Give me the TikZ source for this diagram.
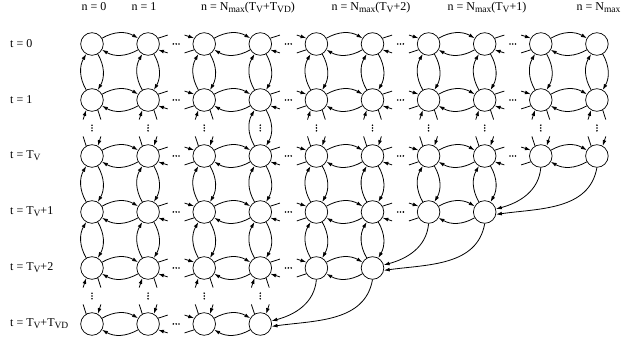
\documentclass[tikz,border=0pt]{standalone}
\usepackage{fontspec}
\setmainfont{Liberation Serif}
\usetikzlibrary{arrows.meta}
\newcommand\lowsub[1]{\raisebox{-0.35ex}{\fontsize{9.5}{10}\selectfont #1}}
\begin{document}
\begin{tikzpicture}[x=1pt,y=1pt,
  state/.style={circle,draw,line width=0.7pt,minimum size=22.6pt,inner sep=0pt},
  arc/.style={line width=0.8pt,-{Latex[length=5.8pt,width=3.8pt]}},
  instub/.style={line width=0.8pt,{Latex[length=5.8pt,width=3.8pt]}-},
  stub/.style={line width=0.8pt},
  lbl/.style={font=\fontsize{12}{14}\selectfont,inner sep=0pt},
]
\useasboundingbox (0,0) rectangle (635,345);
% states
\foreach \j/\m in {1/10,2/10,3/10,4/8,5/6,6/4}{
  \foreach \i in {1,...,\m}{
    \node[state] (n-\i-\j) at ({92+56.1*(\i-1)},{301-56*(\j-1)}) {};
  }
}
% horizontal arcs inside pairs
\foreach \j/\p in {1/5,2/5,3/5,4/4,5/3,6/2}{
  \foreach \k in {1,...,\p}{
    \pgfmathtruncatemacro\ia{2*\k-1}
    \pgfmathtruncatemacro\ib{2*\k}
    \draw[arc] (n-\ia-\j) to[bend left=30] (n-\ib-\j);
    \draw[arc] (n-\ib-\j) to[bend left=30] (n-\ia-\j);
  }
}
% stubs and dots between pairs
\foreach \j/\q in {1/4,2/4,3/4,4/3,5/2,6/1}{
  \foreach \k in {1,...,\q}{
    \pgfmathtruncatemacro\ib{2*\k}
    \pgfmathtruncatemacro\ic{2*\k+1}
    \draw[stub] (n-\ib-\j.30) -- ++(18:10);
    \draw[instub] (n-\ib-\j.-30) -- ++(-18:10);
    \draw[instub] (n-\ic-\j.150) -- ++(162:10);
    \draw[stub] (n-\ic-\j.210) -- ++(198:10);
    \pgfmathsetmacro\xd{92+56.1*(2*\k-0.5)}
    \pgfmathsetmacro\yd{301-56*(\j-1)}
    \foreach \d in {-2.8,0,2.8} \fill (\xd+\d,\yd) circle (0.9pt);
  }
}
% vertical arcs
\foreach \j/\jj/\m in {1/2/10,3/4/8,4/5/6}{
  \foreach \i in {1,...,\m}{
    \draw[arc] (n-\i-\j) to[bend left=30] (n-\i-\jj);
    \draw[arc] (n-\i-\jj) to[bend left=30] (n-\i-\j);
  }
}
\draw[arc] (n-4-2) to[bend left=30] (n-4-3);
\draw[arc] (n-4-3) to[bend left=30] (n-4-2);
% vertical stubs
\foreach \i in {1,2,3,5,6,7,8,9,10}{
  \draw[instub] (n-\i-2.-120) -- ++(-108:10);
  \draw[stub] (n-\i-2.-60) -- ++(-72:10);
  \draw[stub] (n-\i-3.120) -- ++(108:10);
  \draw[instub] (n-\i-3.60) -- ++(72:10);
}
\foreach \i in {1,...,4}{
  \draw[instub] (n-\i-5.-120) -- ++(-108:10);
  \draw[stub] (n-\i-5.-60) -- ++(-72:10);
  \draw[stub] (n-\i-6.120) -- ++(108:10);
  \draw[instub] (n-\i-6.60) -- ++(72:10);
}
% vertical dots
\foreach \i in {1,...,10}{
  \foreach \d in {-2.8,0,2.8} \fill ({92+56.1*(\i-1)},217+\d) circle (0.9pt);
}
\foreach \i in {1,...,4}{
  \foreach \d in {-2.8,0,2.8} \fill ({92+56.1*(\i-1)},49+\d) circle (0.9pt);
}
% long curves
\draw[arc] (n-9-3.south) to[out=-95,in=15] (n-8-4.15);
\draw[arc] (n-10-3.south) to[out=-100,in=8] (n-8-4.-12);
\draw[arc] (n-7-4.south) to[out=-95,in=15] (n-6-5.15);
\draw[arc] (n-8-4.south) to[out=-100,in=8] (n-6-5.-12);
\draw[arc] (n-5-5.south) to[out=-95,in=15] (n-4-6.15);
\draw[arc] (n-6-5.south) to[out=-100,in=8] (n-4-6.-12);
% row labels
\node[lbl,anchor=west] (t0) at (10,301) {t = 0};
\node[lbl,anchor=west] (t1) at (10,245) {t = 1};
\node[lbl,anchor=west] (t2) at (10,189) {t = T\lowsub{V}};
\node[lbl,anchor=west] (t3) at (10,133) {t = T\lowsub{V}+1};
\node[lbl,anchor=west] (t4) at (10,77) {t = T\lowsub{V}+2};
\node[lbl,anchor=west] (t5) at (10,21) {t = T\lowsub{V}+T\lowsub{VD}};
% column labels
\node[lbl,anchor=base] (c0) at (94,334.5) {n = 0};
\node[lbl,anchor=base] (c1) at (144,334.5) {n = 1};
\node[lbl,anchor=base] (c2) at (248,334.5) {n = N\lowsub{max}(T\lowsub{V}+T\lowsub{VD})};
\node[lbl,anchor=base] (c3) at (371,334.5) {n = N\lowsub{max}(T\lowsub{V}+2)};
\node[lbl,anchor=base] (c4) at (487,334.5) {n = N\lowsub{max}(T\lowsub{V}+1)};
\node[lbl,anchor=base] (c5) at (598.5,334.5) {n = N\lowsub{max}};
\end{tikzpicture}
\end{document}
